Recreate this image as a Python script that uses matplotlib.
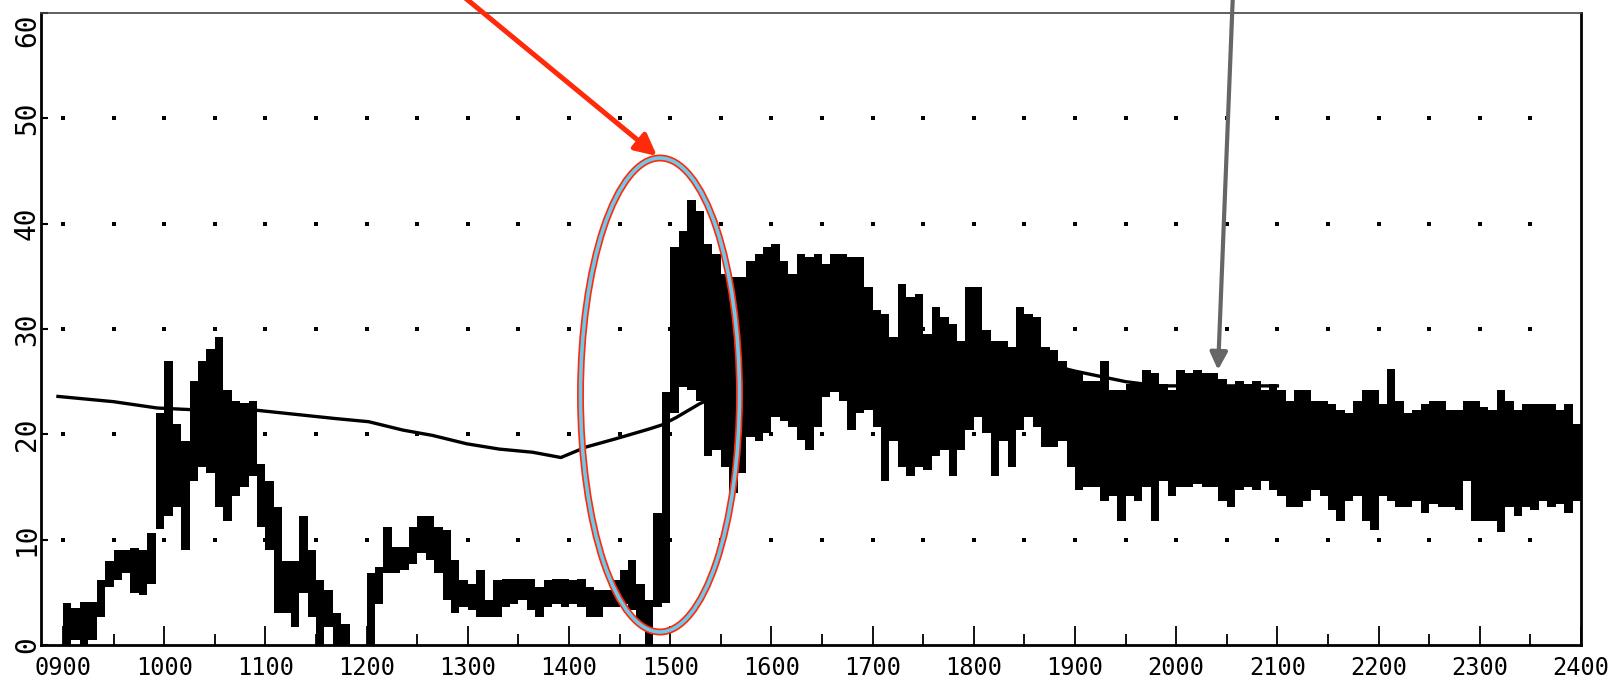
import numpy as np
import matplotlib
matplotlib.use('Agg')
import matplotlib.pyplot as plt
from matplotlib.patches import Ellipse

# 5-minute bins starting at 0900, value range (low / high)
bin_minutes = 5
hi = [
    4.0, 3.5, 4.1, 4.1, 6.2, 8.0, 9.0, 9.0, 9.2, 9.0, 10.6, 22.0,          # 09
    27.0, 21.0, 19.4, 25.1, 27.0, 28.1, 29.2, 24.2, 23.2, 23.0, 23.2, 17.2, # 10
    15.6, 13.1, 8.0, 8.0, 12.2, 9.0, 6.2, 5.2, 3.0, 2.0, np.nan, np.nan,    # 11
    6.8, 7.4, 11.2, 9.3, 9.3, 11.2, 12.2, 12.2, 11.2, 10.9, 8.1, 6.2,       # 12
    5.8, 7.1, 4.3, 6.2, 6.3, 6.3, 6.3, 6.3, 5.5, 6.2, 6.3, 6.3,             # 13
    6.2, 6.3, 5.5, 5.2, 5.2, 6.2, 7.1, 8.1, 5.8, 4.3, 12.5, 24.0,           # 14
    37.8, 39.3, 42.2, 41.2, 38.1, 37.1, 35.2, 34.9, 34.9, 36.5, 37.1, 37.8, # 15
    38.1, 36.5, 35.2, 37.1, 36.8, 37.1, 36.2, 37.1, 37.1, 36.8, 36.8, 34.0, # 16
    31.8, 31.4, 29.2, 34.3, 33.0, 33.3, 29.5, 32.1, 31.1, 30.5, 28.9, 34.0, # 17
    34.0, 29.9, 28.9, 28.9, 28.3, 32.1, 31.4, 31.1, 28.3, 28.0, 27.0, 26.1, # 18
    25.8, 25.1, 25.1, 27.0, 24.2, 24.2, 24.8, 24.8, 26.1, 25.8, 24.8, 24.2, # 19
    26.1, 25.8, 26.1, 25.8, 25.8, 25.3, 24.5, 25.1, 24.8, 25.1, 24.2, 24.8, # 20
    24.2, 23.2, 24.2, 24.2, 23.2, 23.2, 22.9, 22.3, 22.0, 23.2, 24.2, 24.2, # 21
    22.9, 26.2, 23.2, 22.0, 22.3, 22.9, 23.2, 23.2, 22.3, 22.3, 23.2, 23.2, # 22
    22.6, 22.3, 24.2, 23.2, 22.3, 22.9, 22.9, 22.9, 22.9, 22.3, 22.9, 21.0, # 23
]
lo = [
    0.0, 0.5, 0.0, 0.5, 2.7, 5.5, 6.2, 6.8, 4.9, 4.7, 5.8, 11.0,           # 09
    12.2, 13.1, 9.0, 15.6, 16.9, 16.3, 13.1, 11.8, 14.1, 15.0, 16.0, 11.2, # 10
    9.0, 3.0, 3.0, 1.7, 4.9, 2.7, 0.0, 1.7, 0.0, 0.0, np.nan, np.nan,      # 11
    0.0, 3.9, 6.8, 6.8, 7.1, 7.7, 8.7, 8.1, 6.8, 4.3, 3.0, 3.6,            # 12
    3.3, 2.7, 2.7, 2.7, 3.6, 3.9, 4.3, 3.3, 2.7, 3.6, 3.9, 3.6,            # 13
    3.9, 3.6, 2.7, 2.7, 3.6, 3.6, 3.9, 3.3, 2.0, 0.0, 3.6, 4.0,            # 14
    22.0, 24.5, 24.2, 23.2, 17.9, 18.5, 16.9, 14.4, 16.3, 19.7, 19.4, 20.1, # 15
    21.6, 21.3, 20.7, 19.5, 18.5, 20.7, 23.5, 24.0, 23.2, 20.4, 22.0, 22.3, # 16
    20.7, 15.6, 19.4, 16.9, 16.0, 16.9, 16.6, 17.9, 18.5, 16.0, 18.5, 20.4, # 17
    21.6, 20.1, 16.0, 19.4, 16.9, 20.4, 21.6, 20.7, 18.8, 18.8, 19.4, 16.9, # 18
    14.7, 15.0, 15.0, 13.7, 14.1, 11.8, 14.1, 13.7, 15.0, 11.8, 15.6, 14.1, # 19
    15.0, 15.0, 15.3, 15.0, 15.0, 13.7, 13.1, 14.7, 15.0, 14.7, 15.6, 14.7, # 20
    14.1, 13.1, 13.1, 13.7, 14.7, 14.1, 12.8, 11.8, 13.7, 14.1, 11.8, 10.9, # 21
    14.1, 13.7, 13.1, 13.1, 13.7, 12.5, 13.4, 13.1, 13.1, 12.8, 15.6, 11.8, # 22
    11.8, 11.8, 10.7, 13.1, 12.2, 13.1, 12.8, 13.7, 13.1, 13.4, 12.5, 13.7, # 23
]

# slowly varying reference curve (hours, value)
line_t = [8.95, 9.5, 9.93, 10.36, 10.9, 11.69, 12.02, 12.36, 12.65, 12.99, 13.31,
          13.64, 13.92, 14.17, 14.47, 14.79, 14.92, 15.06, 15.29, 15.5, 16.0,
          16.5, 17.0, 17.5, 18.1, 18.5, 19.0, 19.5, 19.83, 21.0]
line_v = [23.6, 23.1, 22.5, 22.3, 22.3, 21.5, 21.2, 20.4, 19.9, 19.1, 18.6,
          18.3, 17.8, 18.8, 19.6, 20.5, 20.9, 21.6, 22.9, 23.8, 26.0,
          27.5, 28.3, 28.5, 28.2, 27.2, 26.0, 25.0, 24.6, 24.6]

hour_ticks = list(range(9, 25))
hour_labels = ['%02d00' % h for h in hour_ticks]
y_ticks = [0, 10, 20, 30, 40, 50, 60]

W, H = 1610, 684
fig = plt.figure(figsize=(W / 100, H / 100), dpi=100)
ax = fig.add_axes([41 / W, 1 - 645 / H, (1581 - 41) / W, (645 - 13) / H])

t0 = np.arange(len(hi)) * bin_minutes / 60 + 9
hi_a = np.array(hi)
lo_a = np.array(lo)
ax.bar(t0, hi_a - lo_a, bottom=lo_a, width=bin_minutes / 60, align='edge',
       color='black', linewidth=0, zorder=3)
ax.plot(line_t, line_v, color='black', lw=2.4, zorder=4)

# dotted grid
gx, gy = np.meshgrid(np.arange(9, 24, 0.5), np.arange(10, 60, 10))
ax.scatter(gx.ravel(), gy.ravel(), marker='s', s=5, color='black', lw=0, zorder=2)

ax.set_xlim(9 - 22 / 101.2, 24)
ax.set_ylim(0, 60)
ax.set_xticks(hour_ticks)
ax.set_xticks(np.arange(9.5, 24, 1), minor=True)
ax.set_xticklabels(hour_labels, fontfamily='DejaVu Sans Mono', fontsize=17)
ax.set_yticks(y_ticks)
ax.set_yticklabels([str(v) for v in y_ticks], fontfamily='DejaVu Sans Mono',
                   fontsize=20, rotation=90, va='center')
ax.get_yticklabels()[-1].set_va('top')
ax.tick_params(axis='x', which='major', direction='in', length=14, width=1.3, pad=8)
ax.tick_params(axis='x', which='minor', direction='in', length=8, width=1.3)
ax.tick_params(axis='y', direction='in', length=5, width=1.5, pad=0)

for side in ['left', 'bottom', 'right']:
    ax.spines[side].set_linewidth(2.0)
ax.spines['top'].set_linewidth(1.2)
ax.spines['top'].set_color('#444444')

# annotations: highlighted ellipse and arrows
ell_c = (660 / W, 1 - 395 / H)
for lw, col in [(5.0, '#ff2a0a'), (2.6, '#6ec8ea')]:
    fig.add_artist(Ellipse(ell_c, 159 / W, 474 / H, transform=fig.transFigure,
                           fill=False, edgecolor=col, lw=lw, zorder=10))

ax.annotate('', xy=(657, H - 156), xycoords='figure pixels',
            xytext=(458, H + 8), textcoords='figure pixels',
            arrowprops=dict(arrowstyle='-|>', color='#ff2a0a', lw=3.6,
                            mutation_scale=32, shrinkA=0, shrinkB=0),
            annotation_clip=False, zorder=11)
ax.annotate('', xy=(1218, H - 370), xycoords='figure pixels',
            xytext=(1233, H + 8), textcoords='figure pixels',
            arrowprops=dict(arrowstyle='-|>', color='#666666', lw=3.0,
                            mutation_scale=26, shrinkA=0, shrinkB=0),
            annotation_clip=False, zorder=11)

fig.savefig('out.png', dpi=100)
